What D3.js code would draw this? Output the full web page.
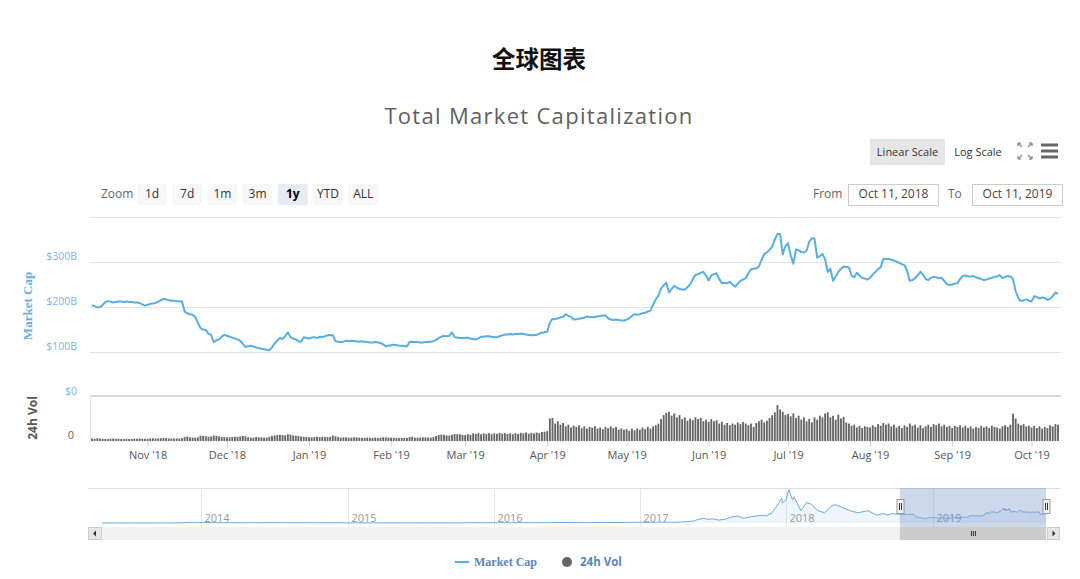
<!DOCTYPE html>
<html><head><meta charset="utf-8">
<script src="https://cdn.jsdelivr.net/npm/d3@7"></script>
<style>
body{margin:0;background:#fff;}
svg{display:block;font-family:"Open Sans","Noto Sans",sans-serif;}
</style></head><body>
<svg id="c" width="1080" height="579"></svg>
<script>
// ---------------- DATA ----------------
const titleText = "全球图表";
const subtitleText = "Total Market Capitalization";
const startDate = "2018-10-11";
const endDate = "2019-10-11";
// Daily total market cap (billions USD), Oct 11 2018 -> Oct 11 2019
const capOct18 = [204,202,199,200,204,211,213,212,210,211,212,212,211,212,211,211,210,210,209,206,203];
const capNov18 = [205,207,208,209,212,215,218,217,215,214,214,213,213,212,190,186,184,183,178,165,153,150,149,141,138,122,126,128,134,138];
const capDec18 = [136,134,132,130,128,125,118,111,113,114,112,110,109,107,106,105,104,110,119,125,131,129,135,144,133,130,128,124,123,133,131];
const capJan19 = [130,132,133,131,134,133,135,137,138,137,124,123,122,123,125,124,125,124,124,123,124,123,122,121,121,122,121,120,117,113,114];
const capFeb19 = [115,116,115,114,114,113,113,122,123,122,122,121,121,122,122,123,124,127,131,134,136,135,136,144,133,132,131,131];
const capMar19 = [131,132,130,129,128,130,134,134,135,135,134,133,133,135,137,139,139,140,139,140,140,141,140,139,138,137,138,138,141,143,144];
const capApr19 = [145,165,174,173,175,177,178,184,180,178,172,173,174,175,176,179,178,177,178,179,180,181,181,175,172,171,172,171,170,170];
const capMay19 = [172,175,180,184,183,184,186,187,190,192,205,217,225,241,248,254,232,240,247,243,240,239,239,244,250,262,271,273,276,278,270];
const capJun19 = [259,270,273,275,262,253,254,253,256,250,245,252,258,261,264,275,284,285,286,290,305,318,321,327,334,350,362,362,317,335];
const capJul19 = [342,315,296,328,326,322,321,325,345,353,352,310,313,318,306,278,285,258,268,278,285,290,289,288,270,266,276,270,265,263,261];
const capAug19 = [265,272,278,284,288,307,306,307,305,303,301,298,295,293,280,258,260,264,270,278,272,262,260,265,267,266,264,265,258,251,249];
const capSep19 = [250,252,253,262,269,270,268,268,269,266,264,262,260,261,263,265,267,268,271,264,267,269,268,262,235,220,213,215,217,214];
const capOct19 = [212,224,222,219,221,220,216,218,224,232,229];

// Daily 24h volume (billions USD)
const volOct18 = [9,8,10,9,8,7,7,8,9,8,8,7,7,8,7,7,8,8,9,8,8];
const volNov18 = [8,9,10,9,9,10,11,10,9,9,9,9,9,10,14,16,13,12,12,13,19,18,17,15,16,20,18,16,14,14];
const volDec18 = [13,13,14,15,15,16,18,17,13,12,12,14,13,13,12,12,15,18,20,21,22,21,20,24,23,20,19,18,16,15,14];
const volJan19 = [13,13,14,15,14,15,14,14,15,19,17,14,12,13,13,12,12,13,13,12,11,11,12,11,11,12,11,12,13,13,12];
const volFeb19 = [12,12,11,11,11,11,11,14,15,12,12,12,13,13,12,12,14,18,21,23,22,20,19,22,25,24,24,22];
const volMar19 = [21,24,22,27,25,28,24,27,25,28,24,27,25,29,26,28,25,27,24,28,25,29,27,30,26,29,27,30,28,32,33];
const volApr19 = [35,80,82,62,70,58,64,52,58,48,55,50,56,46,52,44,50,47,53,44,48,42,50,45,52,46,50,40,45,40];
const volMay19 = [42,36,44,38,45,40,48,42,50,44,52,56,62,78,92,100,104,90,98,84,92,78,84,72,80,74,84,78,82,70,76];
const volJun19 = [68,78,70,74,62,68,58,64,56,62,58,66,60,68,62,56,62,50,64,70,76,66,72,82,92,102,128,112,104,92];
const volJul19 = [96,88,98,82,90,76,84,70,78,66,84,76,90,84,98,102,84,90,76,94,80,86,66,62,54,58,48,54,46,52,50];
const volAug19 = [48,56,50,60,54,64,58,62,52,58,48,54,46,56,50,62,54,58,48,56,46,52,58,50,60,56,62,52,58,50,54];
const volSep19 = [46,54,50,56,48,54,46,52,44,50,46,54,48,52,46,54,50,48,44,52,56,50,58,97,80,62,56,60,52,54];
const volOct19 = [48,54,46,52,44,50,46,56,52,60,58];

// Navigator history (billions USD) before the daily window
const navDates = ["2013-04-28","2013-06-01","2013-07-05","2013-08-01","2013-09-01","2013-10-01","2013-11-01","2013-11-18","2013-12-04","2013-12-18",
"2014-01-05","2014-02-01","2014-02-25","2014-03-15","2014-04-10","2014-05-01","2014-06-03","2014-07-01","2014-08-01","2014-09-01","2014-10-05","2014-11-01","2014-12-01",
"2015-01-14","2015-02-01","2015-03-10","2015-04-14","2015-05-15","2015-06-15","2015-07-12","2015-08-20","2015-09-15","2015-10-15","2015-11-04","2015-12-01",
"2016-01-01","2016-01-15","2016-02-15","2016-03-15","2016-04-15","2016-05-15","2016-06-17","2016-07-10","2016-08-03","2016-09-01","2016-10-01","2016-11-01","2016-12-01",
"2017-01-04","2017-01-12","2017-02-01","2017-03-01","2017-03-25","2017-04-15","2017-05-01","2017-05-15","2017-05-25","2017-06-12","2017-06-15","2017-07-01","2017-07-16",
"2017-08-01","2017-08-15","2017-09-01","2017-09-15","2017-10-01","2017-10-20","2017-11-01","2017-11-12","2017-11-26","2017-12-07","2017-12-12","2017-12-20","2017-12-22","2017-12-31",
"2018-01-07","2018-01-16","2018-01-20","2018-02-06","2018-02-20","2018-03-05","2018-03-18","2018-04-06","2018-04-25","2018-05-05","2018-05-29","2018-06-12","2018-06-28",
"2018-07-24","2018-08-14","2018-08-30","2018-09-11","2018-09-21","2018-10-01","2018-10-10"];
const navCap = [1.6,1.3,0.9,1.2,1.5,1.6,2.5,7,14,7,
11,10,7,8,5.5,6.5,8.5,8.5,7.5,6.5,4.5,4.6,5.2,
2.7,3.4,4.1,3.4,3.6,3.6,4.5,3.6,3.6,4.3,6.5,5.8,
7,6.4,7,8.5,8,8.4,12,10.7,9.4,10.4,10.8,12.4,13.8,
18.5,15,17,21.5,19,27,37,48,88,115,90,100,70,
95,140,172,115,145,175,185,175,250,400,480,610,490,570,
813,560,640,300,500,455,310,250,430,445,340,290,250,
300,190,230,195,228,218,220];

const monthTicks = ["2018-11-01","2018-12-01","2019-01-01","2019-02-01","2019-03-01","2019-04-01","2019-05-01","2019-06-01","2019-07-01","2019-08-01","2019-09-01","2019-10-01"];
const capGridValues = [100,200,300,400];
const capLabelValues = [0,100,200,300];
const navYears = ["2014","2015","2016","2017","2018","2019"];
const zoomButtons = ["1d","7d","1m","3m","1y","YTD","ALL"];
const selectedZoom = "1y";
const legendItems = ["Market Cap","24h Vol"];

// ---------------- BUILD ----------------
const marketCap = [].concat(capOct18,capNov18,capDec18,capJan19,capFeb19,capMar19,capApr19,capMay19,capJun19,capJul19,capAug19,capSep19,capOct19);
const volume = [].concat(volOct18,volNov18,volDec18,volJan19,volFeb19,volMar19,volApr19,volMay19,volJun19,volJul19,volAug19,volSep19,volOct19);
const parse = d3.utcParse("%Y-%m-%d");
const t0 = parse(startDate), t1 = parse(endDate);
const daily = marketCap.map((v,i)=>({date: d3.utcDay.offset(t0,i), cap: v, vol: volume[i]}));

const svg = d3.select("#c");
const BLUE = "#5aaee0";

// titles
svg.append("text").attr("x",539).attr("y",58).attr("text-anchor","middle").attr("dominant-baseline","central")
  .style("font-family",'"Noto Sans CJK SC",sans-serif').style("font-weight","bold").style("font-size","23.5px").attr("fill","#111").text(titleText);
svg.append("text").attr("x",539).attr("y",124).attr("text-anchor","middle")
  .style("font-size","22px").style("letter-spacing","1.3px").attr("fill","#5f5f5f").text(subtitleText);

// scale buttons
svg.append("rect").attr("x",870).attr("y",139).attr("width",75).attr("height",26).attr("fill","#e6e6e6");
svg.append("text").attr("x",907.5).attr("y",156).attr("text-anchor","middle").style("font-size","11px").attr("fill","#333").text("Linear Scale");
svg.append("text").attr("x",978).attr("y",156).attr("text-anchor","middle").style("font-size","11px").attr("fill","#333").text("Log Scale");
// fullscreen icon
const fs = svg.append("g").attr("stroke","#999").attr("stroke-width",1.5).attr("fill","none");
[[1018,143,1,1],[1032,143,-1,1],[1018,159,1,-1],[1032,159,-1,-1]].forEach(([cx,cy,sx,sy])=>{
  fs.append("path").attr("d",`M${cx},${cy} l${4*sx},${4*sy} M${cx},${cy} l${3*sx},0 M${cx},${cy} l0,${3*sy}`);
});
// menu icon
[145,151,157].forEach(yy=>svg.append("rect").attr("x",1041).attr("y",yy-1.5).attr("width",17).attr("height",3).attr("fill","#666"));

// zoom buttons
svg.append("text").attr("x",101).attr("y",198).style("font-size","12px").attr("fill","#666").text("Zoom");
zoomButtons.forEach((b,i)=>{
  const bx = 137 + i*35.2;
  const sel = b===selectedZoom;
  svg.append("rect").attr("x",bx).attr("y",184).attr("width",30).attr("height",21).attr("rx",2).attr("fill", sel?"#e6ebf5":"#f7f7f7");
  svg.append("text").attr("x",bx+15).attr("y",198).attr("text-anchor","middle").style("font-size","12px")
    .style("font-weight", sel?"bold":"normal").attr("fill", sel?"#000":"#333").text(b);
});

// From / To
const fmtInput = d3.utcFormat("%b %-d, %Y");
svg.append("text").attr("x",813).attr("y",198).style("font-size","12px").attr("fill","#666").text("From");
svg.append("rect").attr("x",848.5).attr("y",184.5).attr("width",90).attr("height",21).attr("fill","#fff").attr("stroke","#ccc");
svg.append("text").attr("x",893.5).attr("y",198).attr("text-anchor","middle").style("font-size","12px").attr("fill","#444").text(fmtInput(t0));
svg.append("text").attr("x",948).attr("y",198).style("font-size","12px").attr("fill","#666").text("To");
svg.append("rect").attr("x",972.5).attr("y",184.5).attr("width",90).attr("height",21).attr("fill","#fff").attr("stroke","#ccc");
svg.append("text").attr("x",1017.5).attr("y",198).attr("text-anchor","middle").style("font-size","12px").attr("fill","#444").text(fmtInput(t1));

// scales
const PL = 90, PR = 1061;
const x = d3.scaleUtc().domain([t0,t1]).range([92,1058]);
const y = d3.scaleLinear().domain([0,400]).range([397,217]);
const yv = d3.scaleLinear().domain([0,160]).range([441,396]);

// gridlines
svg.append("g").selectAll("line").data(capGridValues).join("line")
  .attr("x1",PL).attr("x2",PR).attr("y1",d=>Math.round(y(d))+0.5).attr("y2",d=>Math.round(y(d))+0.5)
  .attr("stroke","#e6e6e6");

// y labels (market cap)
const yAxis = d3.axisLeft(y).tickValues(capLabelValues).tickSize(0).tickPadding(0)
  .tickFormat(d=> d===0 ? "$0" : "$"+d+"B");
const ya = svg.append("g").attr("transform","translate(77,-6)").call(yAxis);
ya.select(".domain").remove();
ya.selectAll("text").style("font-size","10.5px").style("font-family",'"Open Sans",sans-serif').attr("fill","#7cb5ec");

// volume pane
svg.append("line").attr("x1",PL).attr("x2",PR).attr("y1",396).attr("y2",396).attr("stroke","#d8d8d8").attr("stroke-width",2);
svg.append("line").attr("x1",PL+0.5).attr("x2",PL+0.5).attr("y1",396).attr("y2",441).attr("stroke","#e6e6e6");
const yvAxis = d3.axisLeft(yv).tickValues([0]).tickSize(0).tickPadding(0).tickFormat(d=>String(d));
const yva = svg.append("g").attr("transform","translate(74,-6)").call(yvAxis);
yva.select(".domain").remove();
yva.selectAll("text").style("font-size","11px").style("font-family",'"Open Sans",sans-serif').attr("fill","#666");

// volume bars
const bw = (x(d3.utcDay.offset(t0,1)) - x(t0));
svg.append("g").selectAll("rect").data(daily).join("rect")
  .attr("x",d=>x(d.date)-bw*0.35).attr("width",bw*0.7)
  .attr("y",d=>yv(d.vol)).attr("height",d=>yv(0)-yv(d.vol))
  .attr("fill","#666");

// market cap line
const line = d3.line().x(d=>x(d.date)).y(d=>y(d.cap));
svg.append("path").datum(daily).attr("d",line).attr("fill","none").attr("stroke",BLUE).attr("stroke-width",2).attr("stroke-linejoin","round");

// x axis
const xAxis = d3.axisBottom(x).tickValues(monthTicks.map(parse)).tickSize(6).tickPadding(4)
  .tickFormat(d3.utcFormat("%b '%y"));
const xa = svg.append("g").attr("transform","translate(0,441)").call(xAxis);
xa.select(".domain").remove();
xa.selectAll("line").attr("stroke","#ccd6eb");
xa.selectAll("text").style("font-size","11px").style("font-family",'"Open Sans",sans-serif').attr("fill","#555");

// axis titles
svg.append("text").attr("transform","translate(32,306) rotate(-90)").attr("text-anchor","middle")
  .style("font-family",'"Liberation Serif",serif').style("font-weight","bold").style("font-size","13px").attr("fill","#6aaee2").text("Market Cap");
svg.append("text").attr("transform","translate(37,418) rotate(-90)").attr("text-anchor","middle")
  .style("font-weight","bold").style("font-size","12px").attr("fill","#555").text("24h Vol");

// ---------------- NAVIGATOR ----------------
const navData = navDates.map((d,i)=>({date: parse(d), cap: navCap[i]})).concat(daily.map(d=>({date:d.date, cap:d.cap})));
const nx = d3.scaleUtc().domain([parse(navDates[0]), t1]).range([102,1046]);
const ny = d3.scaleLinear().domain([0,830]).range([523,489]);
const NT = 488, NB = 527;
// year grid
navYears.forEach(yr=>{
  const xx = Math.round(nx(parse(yr+"-01-01")))+0.5;
  svg.append("line").attr("x1",xx).attr("x2",xx).attr("y1",NT).attr("y2",NB).attr("stroke","#e6e6e6");
  svg.append("text").attr("x",xx+3).attr("y",522).style("font-size","11px").attr("fill","#999").text(yr);
});
svg.append("path").datum(navData).attr("d",d3.area().x(d=>nx(d.date)).y0(NB-4).y1(d=>ny(d.cap)))
  .attr("fill","rgba(124,181,236,0.13)");
svg.append("path").datum(navData).attr("d",d3.line().x(d=>nx(d.date)).y(d=>ny(d.cap)))
  .attr("fill","none").attr("stroke","#6aaee6").attr("stroke-width",1);
svg.append("line").attr("x1",88).attr("x2",1060).attr("y1",NT+0.5).attr("y2",NT+0.5).attr("stroke","#dcdcdc");
// selection mask
const sx0 = nx(t0), sx1 = nx(t1);
svg.append("rect").attr("x",sx0).attr("y",NT).attr("width",sx1-sx0).attr("height",NB-NT).attr("fill","rgba(102,133,194,0.32)");
[sx0,sx1].forEach(hx=>{
  const hxr = Math.round(hx)+0.5;
  svg.append("rect").attr("x",hxr-3.5).attr("y",499.5).attr("width",7).attr("height",14).attr("fill","#f2f2f2").attr("stroke","#999");
  svg.append("line").attr("x1",hxr-1).attr("x2",hxr-1).attr("y1",503).attr("y2",510).attr("stroke","#333");
  svg.append("line").attr("x1",hxr+1).attr("x2",hxr+1).attr("y1",503).attr("y2",510).attr("stroke","#333");
});
// scrollbar
svg.append("rect").attr("x",88).attr("y",NB).attr("width",972).attr("height",13).attr("fill","#f2f2f2");
svg.append("rect").attr("x",sx0).attr("y",NB).attr("width",sx1-sx0).attr("height",13).attr("fill","#cccccc");
[-2,0,2].forEach(o=>svg.append("line").attr("x1",(sx0+sx1)/2+o+0.5).attr("x2",(sx0+sx1)/2+o+0.5).attr("y1",531).attr("y2",536).attr("stroke","#333"));
svg.append("rect").attr("x",88.5).attr("y",NB+0.5).attr("width",13).attr("height",12).attr("fill","#e6e6e6").attr("stroke","#ccc");
svg.append("path").attr("d","M96,530.5 L96,536.5 L93,533.5 Z").attr("fill","#333");
svg.append("rect").attr("x",1047.5).attr("y",NB+0.5).attr("width",12).attr("height",12).attr("fill","#e6e6e6").attr("stroke","#ccc");
svg.append("path").attr("d","M1052.5,530.5 L1052.5,536.5 L1055.5,533.5 Z").attr("fill","#333");

// ---------------- LEGEND ----------------
svg.append("line").attr("x1",455).attr("x2",469).attr("y1",562).attr("y2",562).attr("stroke",BLUE).attr("stroke-width",2);
svg.append("text").attr("x",474).attr("y",566).style("font-family",'"Liberation Serif",serif').style("font-weight","bold").style("font-size","12px").attr("fill","#5a84c0").text(legendItems[0]);
svg.append("circle").attr("cx",567).attr("cy",562).attr("r",5).attr("fill","#666");
svg.append("text").attr("x",580).attr("y",566).style("font-weight","bold").style("font-size","11.5px").attr("fill","#5a84c0").text(legendItems[1]);
</script>
</body></html>
